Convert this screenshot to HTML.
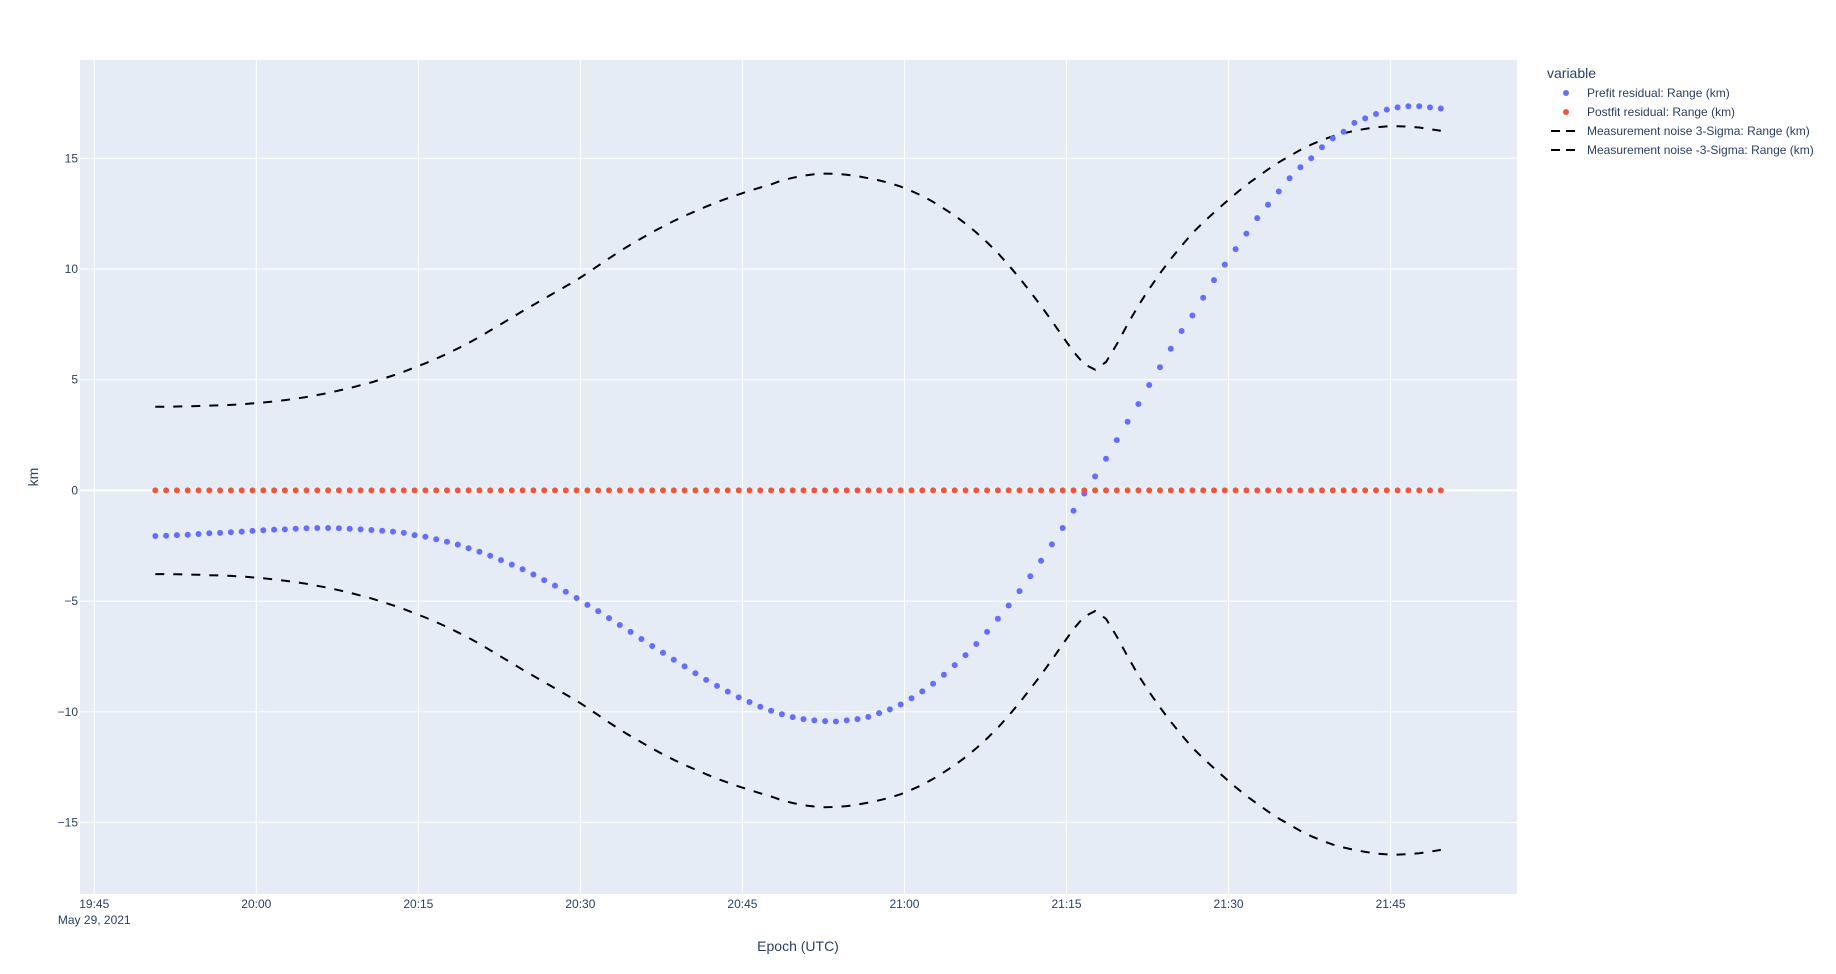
<!DOCTYPE html>
<html><head><meta charset="utf-8"><style>
html,body{margin:0;padding:0;background:#fff;}
svg{display:block;font-family:"Liberation Sans",Arial,sans-serif;}
</style></head><body>
<svg id="chart" width="1836" height="974" xmlns="http://www.w3.org/2000/svg">
<rect x="80" y="60" width="1437" height="834" fill="#e5ecf6"/>
<g id="grid"></g>
<g id="xticks"></g>
<g id="yticks"></g>
<g id="series"></g>
<text x="798" y="951" font-size="14" fill="#2a3f5f" text-anchor="middle">Epoch (UTC)</text>
<text x="0" y="0" font-size="14" fill="#2a3f5f" text-anchor="middle" transform="translate(38,477) rotate(-90)">km</text>
<g>
<text x="1547" y="78" font-size="14" fill="#2a3f5f">variable</text>
<g><circle cx="1566" cy="93" r="3" fill="#636efa"/><text x="1587" y="97" font-size="12" fill="#2a3f5f">Prefit residual: Range (km)</text></g>
<g><circle cx="1566" cy="112" r="3" fill="#ef553b"/><text x="1587" y="116" font-size="12" fill="#2a3f5f">Postfit residual: Range (km)</text></g>
<g><line x1="1551" y1="131" x2="1581" y2="131" stroke="#000" stroke-width="2" stroke-dasharray="9,6"/><text x="1587" y="135" font-size="12" fill="#2a3f5f">Measurement noise 3-Sigma: Range (km)</text></g>
<g><line x1="1551" y1="150" x2="1581" y2="150" stroke="#000" stroke-width="2" stroke-dasharray="9,6"/><text x="1587" y="154" font-size="12" fill="#2a3f5f">Measurement noise -3-Sigma: Range (km)</text></g>
</g>
</svg>
<script>
const startMinute = 5.65; // minutes after 19:45
const prefit = [-2.06,-2.05,-2.02,-2.0,-1.97,-1.94,-1.92,-1.89,-1.86,-1.83,-1.80,-1.77,-1.76,-1.73,-1.71,-1.70,-1.70,-1.71,-1.73,-1.76,
-1.79,-1.82,-1.86,-1.92,-2.02,-2.09,-2.21,-2.32,-2.45,-2.61,-2.77,-2.95,-3.15,-3.35,-3.56,-3.80,-4.05,-4.30,-4.58,-4.86,
-5.17,-5.45,-5.77,-6.08,-6.39,-6.71,-7.03,-7.33,-7.65,-7.95,-8.26,-8.56,-8.83,-9.09,-9.35,-9.56,-9.77,-9.95,-10.11,-10.24,
-10.33,-10.39,-10.42,-10.44,-10.39,-10.33,-10.23,-10.06,-9.89,-9.67,-9.39,-9.08,-8.73,-8.33,-7.89,-7.44,-6.94,-6.39,-5.80,-5.20,
-4.55,-3.88,-3.18,-2.44,-1.70,-0.92,-0.14,0.63,1.43,2.27,3.1,3.9,4.76,5.56,6.4,7.2,7.9,8.7,9.5,10.2,
10.9,11.6,12.3,12.9,13.5,14.1,14.6,15.0,15.5,15.9,16.2,16.6,16.8,17.0,17.2,17.3,17.35,17.35,17.3,17.25];
const postfit = [0,0,0,0,0,0,0,0,0,0,0,0,0,0,0,0,0,0,0,0,0,0,0,0,0,0,0,0,0,0,0,0,0,0,0,0,0,0,0,0,
0,0,0,0,0,0,0,0,0,0,0,0,0,0,0,0,0,0,0,0,0,0,0,0,0,0,0,0,0,0,0,0,0,0,0,0,0,0,0,0,
0,0,0,0,0,0,0,0,0,0,0,0,0,0,0,0,0,0,0,0,0,0,0,0,0,0,0,0,0,0,0,0,0,0,0,0,0,0,0,0];
const sigma3 = [3.78,3.78,3.79,3.80,3.81,3.83,3.84,3.86,3.89,3.93,3.97,4.02,4.08,4.14,4.22,4.31,4.40,4.51,4.62,4.75,
4.88,5.03,5.19,5.36,5.55,5.74,5.95,6.17,6.41,6.66,6.93,7.22,7.51,7.80,8.10,8.38,8.66,8.94,9.22,9.50,
9.82,10.15,10.48,10.80,11.10,11.38,11.66,11.92,12.17,12.40,12.61,12.82,13.02,13.20,13.37,13.53,13.68,13.82,14.00,14.12,
14.22,14.28,14.31,14.30,14.26,14.19,14.10,14.00,13.88,13.72,13.52,13.30,13.03,12.73,12.41,12.05,11.65,11.20,10.72,10.17,
9.59,8.97,8.33,7.65,6.95,6.26,5.70,5.45,5.80,6.60,7.50,8.35,9.10,9.80,10.45,11.05,11.62,12.10,12.55,12.98,
13.40,13.80,14.15,14.50,14.82,15.10,15.38,15.62,15.82,16.00,16.13,16.24,16.33,16.40,16.44,16.45,16.43,16.39,16.32,16.24];
const sigmaMinus3 = sigma3.map(v => -v);
const xTickLabels = ["19:45","20:00","20:15","20:30","20:45","21:00","21:15","21:30","21:45"];
const xTickMinutes = [0,15,30,45,60,75,90,105,120];
const yTickValues = [-15,-10,-5,0,5,10,15];
const yTickLabels = ["\u221215","\u221210","\u22125","0","5","10","15"];

const NS="http://www.w3.org/2000/svg";
const PL=80, PR=1517, PT=60, PB=894;
const xMin=-1.32, xMax=131.7, yMin=-18.23, yMax=19.44;
function xs(m){return PL+(m-xMin)/(xMax-xMin)*(PR-PL);}
function ys(v){return PB-(v-yMin)/(yMax-yMin)*(PB-PT);}
function mk(tag,attrs,parent){const e=document.createElementNS(NS,tag);for(const k in attrs)e.setAttribute(k,attrs[k]);parent.appendChild(e);return e;}
const grid=document.getElementById('grid'), xt=document.getElementById('xticks'), yt=document.getElementById('yticks'), ser=document.getElementById('series');
xTickMinutes.forEach((m,i)=>{
  const x=xs(m);
  const l=mk('line',{x1:x,x2:x,y1:PT,y2:PB,stroke:'#fff','stroke-width':1},grid);
  
  
  const t=mk('text',{x:x,y:908,'font-size':12,fill:'#2a3f5f','text-anchor':'middle'},xt);
  t.textContent=xTickLabels[i];
  
  
});
const dt=mk('text',{x:xs(0),y:924,'font-size':12,fill:'#2a3f5f','text-anchor':'middle'},xt);
dt.textContent="May 29, 2021";


yTickValues.forEach((v,i)=>{
  const y=ys(v);
  const l=mk('line',{x1:PL,x2:PR,y1:y,y2:y,stroke:'#fff','stroke-width':v===0?2:1},grid);
  
  
  const t=mk('text',{x:78,y:y+4,'font-size':12,fill:'#2a3f5f','text-anchor':'end'},yt);
  t.textContent=yTickLabels[i];
  
  
});
function line(arr,name){
  const d=arr.map((v,i)=>(i?'L':'M')+xs(startMinute+i).toFixed(1)+','+ys(v).toFixed(1)).join('');
  const p=mk('path',{d:d,fill:'none',stroke:'#000','stroke-width':2,'stroke-dasharray':'9,9'},ser);
  
  
}
line(sigma3,'sigma-plus-line');
line(sigmaMinus3,'sigma-minus-line');
function dots(arr,color,name){
  const g=mk('g',{},ser);
  
  
  arr.forEach((v,i)=>{
    const c=mk('circle',{cx:xs(startMinute+i).toFixed(1),cy:ys(v).toFixed(1),r:3,fill:color},g);
    
    
  });
}
dots(prefit,'#636efa','prefit-series');
dots(postfit,'#ef553b','postfit-series');
</script>
</body></html>
